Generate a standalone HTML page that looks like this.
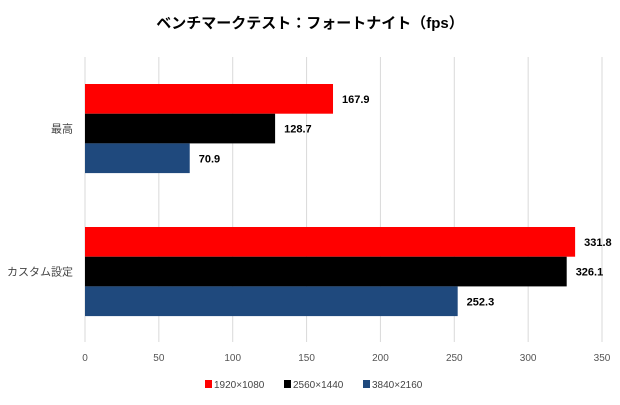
<!DOCTYPE html>
<html><head><meta charset="utf-8"><style>
body{margin:0;background:#fff;}
svg text{font-family:"Liberation Sans","Noto Sans CJK JP",sans-serif;}
</style></head><body>
<svg width="620" height="400">
<text x="310" y="28" text-anchor="middle" font-size="15" font-weight="bold">ベンチマークテスト：フォートナイト（fps）</text>
<g id="grid"></g><g id="bars"></g><g id="labels"></g>
<g>
<rect x="205" y="380" width="7" height="8" fill="#ff0000"/>
<text x="214" y="388" font-size="10" fill="#444">1920×1080</text>
<rect x="284" y="380" width="7" height="8" fill="#000"/>
<text x="293" y="388" font-size="10" fill="#444">2560×1440</text>
<rect x="363" y="380" width="7" height="8" fill="#1f497d"/>
<text x="372" y="388" font-size="10" fill="#444">3840×2160</text>
</g>
</svg>
<script>
const categories=["最高","カスタム設定"];
const s1920=[167.9,331.8];
const s2560=[128.7,326.1];
const s3840=[70.9,252.3];
const ticks=[0,50,100,150,200,250,300,350];
const NS="http://www.w3.org/2000/svg";
const x0=85,x1=602,xmax=350,yTop=57,yBot=342;
const xs=v=>x0+v/xmax*(x1-x0);
function mk(t,a,p){const e=document.createElementNS(NS,t);for(const k in a)e.setAttribute(k,a[k]);p.appendChild(e);return e;}
const grid=document.getElementById('grid'),bars=document.getElementById('bars'),labels=document.getElementById('labels');
ticks.forEach(t=>{
 const l=mk('line',{x1:xs(t),x2:xs(t),y1:yTop,y2:yBot,stroke:'#d9d9d9','stroke-width':1},grid);
 
 
 const tx=mk('text',{x:xs(t),y:361,'text-anchor':'middle','font-size':10,fill:'#555'},grid);
 tx.textContent=t;
 
 
});
const series=[[s1920,'#ff0000','1920'],[s2560,'#000000','2560'],[s3840,'#1f497d','3840']];
const groupTop=[84,227],bh=29.7;
categories.forEach((c,i)=>{
 const ct=mk('text',{x:73,y:groupTop[i]+bh*1.5+4,'text-anchor':'end','font-size':11,fill:'#444'},labels);
 ct.textContent=c;
 
 
 series.forEach((s,j)=>{
  const v=s[0][i],y=groupTop[i]+j*bh;
  const r=mk('rect',{x:x0,y:y,width:xs(v)-x0,height:bh,fill:s[1]},bars);
  
  
  const t=mk('text',{x:xs(v)+9,y:y+bh/2+4,'font-size':11,'font-weight':'bold',fill:'#000'},labels);
  t.textContent=v.toFixed(1);
  
  
 });
});
</script>
</body></html>
